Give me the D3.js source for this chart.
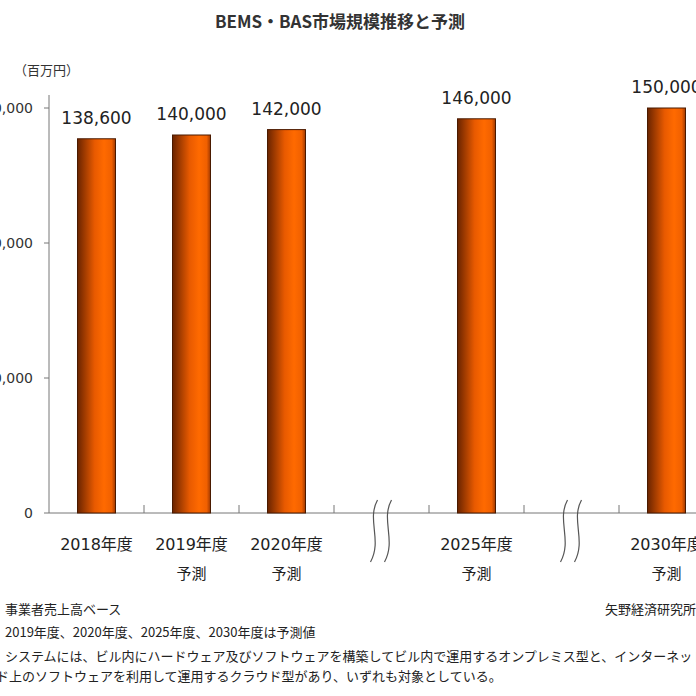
<!DOCTYPE html><html><head><meta charset="utf-8"><script src="https://cdn.jsdelivr.net/npm/d3@7"></script>
<style>body{margin:0;background:#fff}text{font-family:"Noto Sans CJK JP",sans-serif}.n{font-family:"DejaVu Sans","Noto Sans CJK JP",sans-serif}</style></head><body><script>
const slots=["2018","2019","2020","b1","2025","b2","2030"];
const categories=["2018","2019","2020","2025","2030"];
const values=[138600,140000,142000,146000,150000];
const yearLabels=["2018年度","2019年度","2020年度","2025年度","2030年度"];
const subLabels=["","予測","予測","予測","予測"];
const yTicks=[0,50000,100000,150000];
const notes=["事業者売上高ベース","2019年度、2020年度、2025年度、2030年度は予測値","システムには、ビル内にハードウェア及びソフトウェアを構築してビル内で運用するオンプレミス型と、インターネットに接続さ","ド上のソフトウェアを利用して運用するクラウド型があり、いずれも対象としている。"];
const W=696,H=696;
const svg=d3.select("body").append("svg").attr("width",W).attr("height",H);
const x=d3.scaleBand().domain(slots).range([49,714]).paddingInner(0).paddingOuter(0);
const y=d3.scaleLinear().domain([0,150000]).range([513,108]);
const g=svg.append("defs").append("linearGradient").attr("id","gr");
[[0,"#6a2400"],[0.45,"#e85a00"],[0.7,"#ff6a00"],[0.9,"#f06000"],[1,"#a03800"]].forEach(s=>g.append("stop").attr("offset",s[0]).attr("stop-color",s[1]));
svg.append("text").attr("x",340).attr("y",28).attr("text-anchor","middle").attr("font-size",17).attr("font-weight","bold").attr("fill","#333").text("BEMS・BAS市場規模推移と予測");
svg.append("text").attr("x",14).attr("y",75).attr("font-size",13).attr("fill","#333").text("（百万円）");
svg.append("line").attr("x1",49).attr("x2",49).attr("y1",95).attr("y2",513).attr("stroke","#777");
svg.append("line").attr("x1",49).attr("x2",W).attr("y1",513).attr("y2",513).attr("stroke","#777");
yTicks.forEach(t=>{svg.append("line").attr("x1",44).attr("x2",49).attr("y1",y(t)).attr("y2",y(t)).attr("stroke","#777");
svg.append("text").attr("class","n").attr("x",33).attr("y",y(t)+5).attr("text-anchor","end").attr("font-size",14).attr("fill","#333").text(d3.format(",")(t));});
slots.forEach(s=>{const xx=x(s)+x.bandwidth();svg.append("line").attr("x1",xx).attr("x2",xx).attr("y1",505).attr("y2",513).attr("stroke","#777");});
const bw=38;
categories.forEach((c,i)=>{const cx=x(c)+x.bandwidth()/2;
svg.append("rect").attr("x",cx-bw/2).attr("width",bw).attr("y",y(values[i])).attr("height",y(0)-y(values[i])).attr("fill","url(#gr)").attr("stroke","#4a1a00").attr("stroke-width",1);
svg.append("text").attr("class","n").attr("x",cx).attr("y",y(values[i])-15).attr("text-anchor","middle").attr("font-size",17).attr("fill","#222").text(d3.format(",")(values[i]));
svg.append("text").attr("class","n").attr("x",cx).attr("y",550).attr("text-anchor","middle").attr("font-size",16).attr("fill","#222").text(yearLabels[i]);
svg.append("text").attr("x",cx).attr("y",579).attr("text-anchor","middle").attr("font-size",15).attr("fill","#222").text(subLabels[i]);});
["b1","b2"].forEach(b=>{const cx=x(b)+x.bandwidth()/2;
[-7,7].forEach(o=>svg.append("path").attr("d",`M${cx+o+3},500 C${cx+o-8},520 ${cx+o+8},540 ${cx+o-4},562`).attr("fill","none").attr("stroke","#555").attr("stroke-width",1.2));});
const ny=[614,637,661,681];
notes.forEach((n,i)=>svg.append("text").attr("x",i==3?-4:5).attr("y",ny[i]).attr("font-size",13).attr("fill","#222").text(n));
svg.append("text").attr("x",696).attr("y",614).attr("text-anchor","end").attr("font-size",13).attr("fill","#222").text("矢野経済研究所");
</script></body></html>
